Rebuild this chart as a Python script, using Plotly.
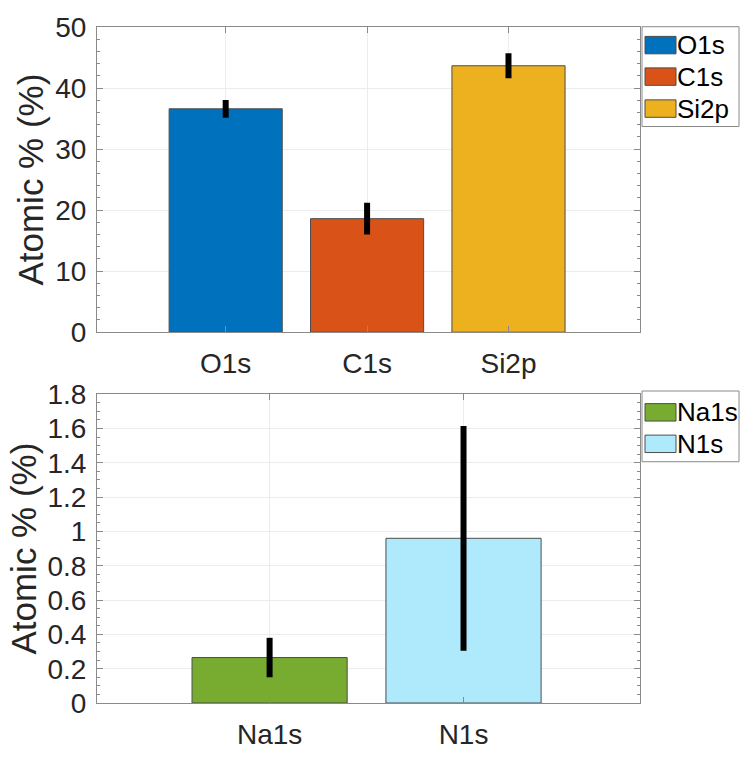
import plotly.graph_objects as go

# Top panel: major elements
top_labels = ["O1s", "C1s", "Si2p"]
top_values = [36.6, 18.6, 43.65]
top_errors = [1.45, 2.6, 2.05]
top_colors = ["#0072BD", "#D95319", "#EDB120"]
top_yticks = [0, 10, 20, 30, 40, 50]

# Bottom panel: minor elements
bot_labels = ["Na1s", "N1s"]
bot_values = [0.265, 0.96]
bot_errors = [0.115, 0.655]
bot_colors = ["#77AC30", "#AFEAFC"]
bot_yticks = [0, 0.2, 0.4, 0.6, 0.8, 1.0, 1.2, 1.4, 1.6, 1.8]

W, H = 743, 762
L, R, T, B = 97, 640, 19.3, 717
TXT = "#262626"
FONT = "Liberation Sans, Arial, sans-serif"


def px(x):
    return (x - L) / (R - L)


def py(y):
    return (B - y) / (B - T)


fig = go.Figure()

fig.add_trace(go.Bar(
    x=top_labels, y=top_values, width=0.8,
    marker=dict(color=top_colors, line=dict(color="#4d4d4d", width=1)),
    error_y=dict(type="data", array=top_errors, color="black",
                 thickness=6, width=0),
    xaxis="x", yaxis="y", showlegend=False,
))
fig.add_trace(go.Bar(
    x=bot_labels, y=bot_values, width=0.8,
    marker=dict(color=bot_colors, line=dict(color="#4d4d4d", width=1)),
    error_y=dict(type="data", array=bot_errors, color="black",
                 thickness=6, width=0),
    xaxis="x2", yaxis="y2", showlegend=False,
))

axis_common = dict(
    showline=True, linecolor="#8a8a8a", linewidth=1, mirror="allticks",
    ticks="inside", ticklen=6, tickcolor="#8a8a8a",
    showgrid=True, gridcolor="#ececec", gridwidth=1,
    zeroline=False,
    tickfont=dict(family=FONT, size=28, color=TXT),
)

top_dom = [py(334.3), 1.0]
bot_dom = [0.0, py(398.3)]

fig.update_layout(
    width=W, height=H,
    margin=dict(l=L, r=W - R, t=T, b=H - B),
    paper_bgcolor="white", plot_bgcolor="white",
    bargap=0.2,
    xaxis=dict(axis_common, domain=[0, 1], anchor="y",
               range=[-0.91, 2.93], ticklabelstandoff=6),
    yaxis=dict(axis_common, domain=top_dom, anchor="x",
               range=[0, 50], tickvals=top_yticks, ticklabelstandoff=4,
               minor=dict(ticks="inside", ticklen=3, dtick=2,
                          tickcolor="#8a8a8a", showgrid=False),
               title=dict(text="Atomic % (%)",
                          font=dict(family=FONT, size=35, color=TXT),
                          standoff=0)),
    xaxis2=dict(axis_common, domain=[0, 1], anchor="y2",
                range=[-0.89, 1.91], ticklabelstandoff=6),
    yaxis2=dict(axis_common, domain=bot_dom, anchor="x2",
                range=[0, 1.8], tickvals=bot_yticks, ticklabelstandoff=4,
                minor=dict(ticks="inside", ticklen=3, dtick=0.05,
                           tickcolor="#8a8a8a", showgrid=False),
                title=dict(text="Atomic % (%)",
                           font=dict(family=FONT, size=35, color=TXT),
                           standoff=0)),
)

# Legend boxes with coloured patches
shapes = []
annotations = []


def legend(box, labels, colors, centers):
    x0, y0, x1, y1 = box
    shapes.append(dict(type="rect", xref="paper", yref="paper",
                       x0=px(x0), x1=px(x1), y0=py(y0), y1=py(y1),
                       line=dict(color="#8a8a8a", width=1),
                       fillcolor="white", layer="above"))
    for lab, col, cy in zip(labels, colors, centers):
        shapes.append(dict(type="rect", xref="paper", yref="paper",
                           x0=px(645), x1=px(676),
                           y0=py(cy + 9), y1=py(cy - 9),
                           line=dict(color="#4d4d4d", width=1),
                           fillcolor=col, layer="above"))
        annotations.append(dict(xref="paper", yref="paper",
                                x=px(675), y=py(cy), xanchor="left",
                                yanchor="middle", showarrow=False,
                                text=lab,
                                font=dict(family=FONT, size=26, color="black")))


legend((642, 19, 739, 122), top_labels, top_colors, [38, 70.5, 103.5])
legend((642, 395, 739, 468), bot_labels, bot_colors, [417, 449.5])

fig.update_layout(shapes=shapes, annotations=annotations)

fig.write_html("out.html")
